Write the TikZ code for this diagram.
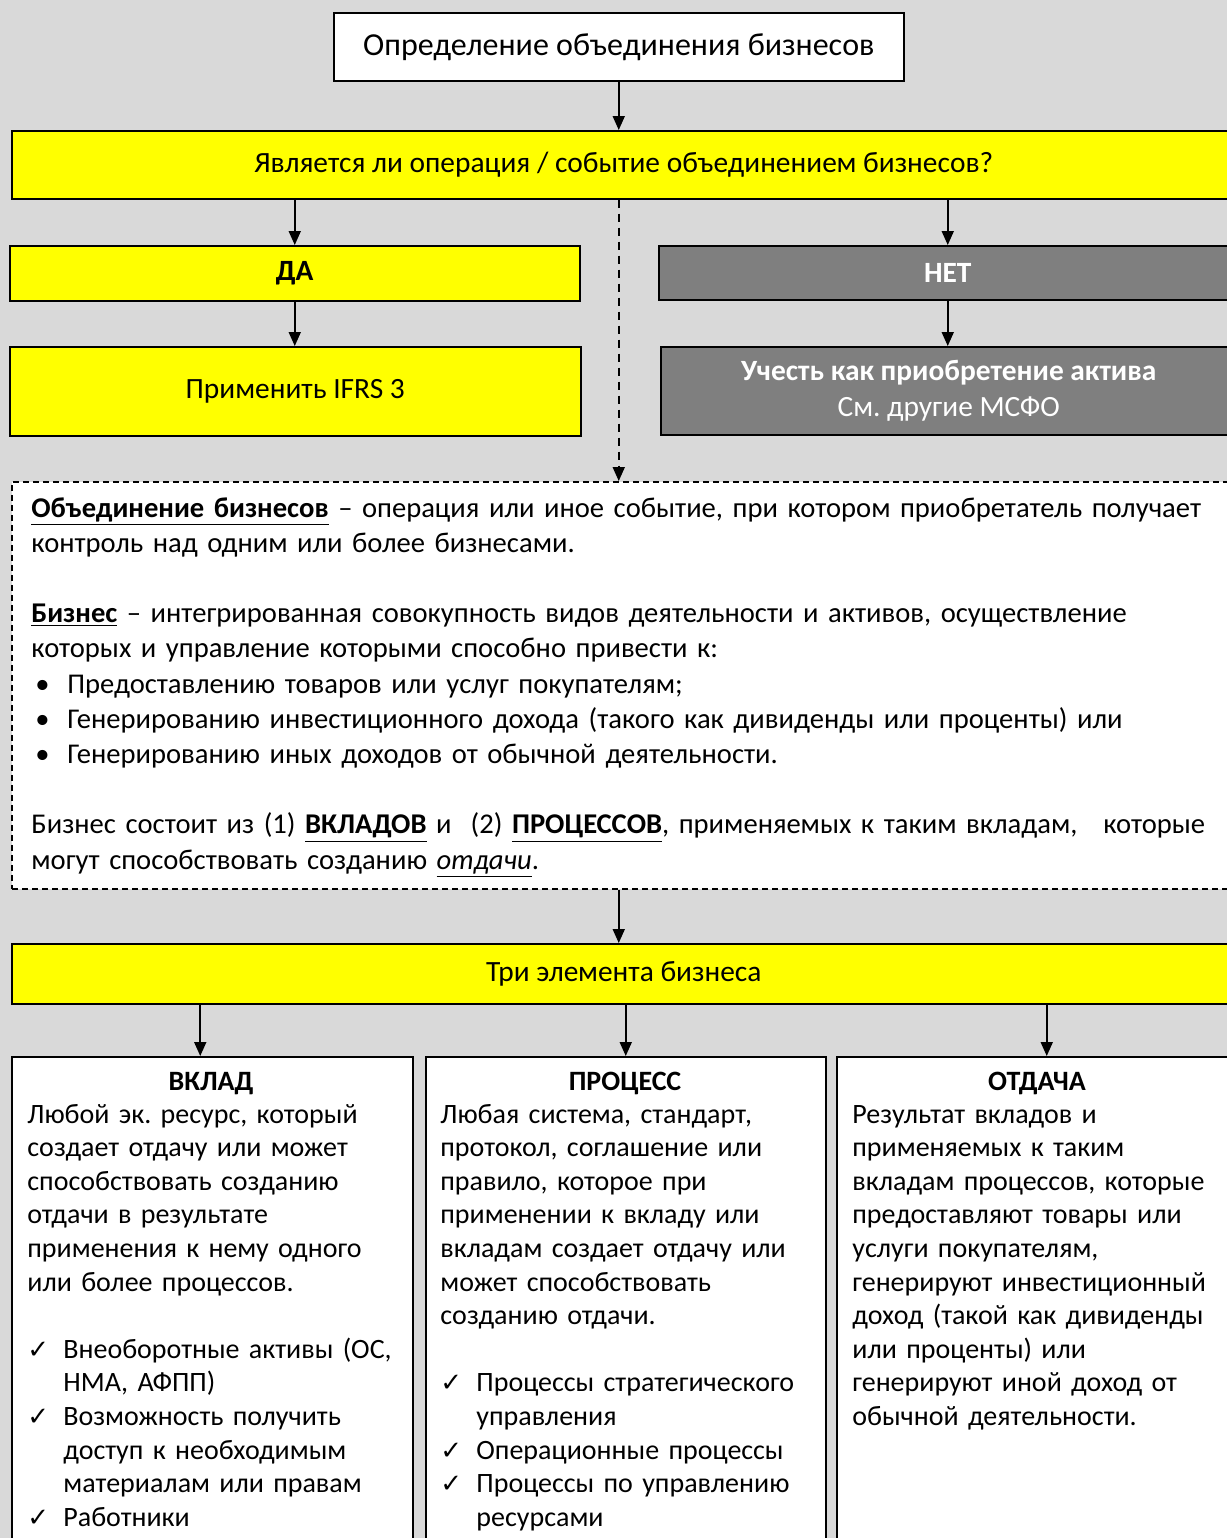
\documentclass[tikz,border=0pt]{standalone}
\usepackage{fontspec}
\setmainfont{Carlito}
\newfontfamily\symfont{DejaVu Sans}
\usetikzlibrary{arrows.meta}
\definecolor{bggray}{HTML}{D9D9D9}
\definecolor{boxyellow}{HTML}{FFFF00}
\definecolor{boxgray}{HTML}{7F7F7F}
\newcommand{\chk}{\makebox[18pt][l]{\symfont\fontsize{13}{13}\selectfont ✓}}
\newcommand{\ind}{\hspace*{18pt}}
\newcommand{\bul}{\makebox[18pt][l]{\hspace{2pt}•}}
\frenchspacing
\tikzset{
  box/.style={draw=black, line width=0.75pt, inner sep=0pt, anchor=north west, align=center},
  yellowbox/.style={box, fill=boxyellow},
  graybox/.style={box, fill=boxgray, text=white},
  whitebox/.style={box, fill=white},
  boxfont/.style={font=\fontsize{14.7}{18}\selectfont},
  boxbold/.style={font=\fontsize{14.7}{18}\selectfont\bfseries},
  arr/.style={-{Triangle[length=7pt,width=6pt]}, line width=0.9pt},
  bodytxt/.style={inner sep=0pt, align=left, anchor=base west, font=\fontsize{14}{16.8}\selectfont},
  headtxt/.style={inner sep=0pt, anchor=base, font=\fontsize{14}{16.8}\selectfont\bfseries},
}
\begin{document}
\begin{tikzpicture}[x=0.5pt, y=-0.5pt]
\useasboundingbox (0,0) rectangle (1227,1538);
\clip (0,0) rectangle (1227,1538);
\fill[bggray] (0,0) rectangle (1227,1538);

\node[whitebox, minimum width=285pt, minimum height=34pt, font=\fontsize{16}{19}\selectfont] (def) at (333,12) {Определение объединения бизнесов};
\node[yellowbox, boxfont, minimum width=612pt, minimum height=34pt] (q) at (11,130) {Является ли операция / событие объединением бизнесов?};

\node[yellowbox, boxbold, minimum width=285pt, minimum height=27.5pt] (da) at (9,245) {ДА};
\node[yellowbox, boxfont, minimum width=285.5pt, minimum height=44.5pt] (ifrs) at (9,346) {Применить IFRS 3};
\node[graybox, boxbold, minimum width=289pt, minimum height=27pt] (net) at (658,245) {НЕТ};
\node[graybox, boxfont, minimum width=288pt, minimum height=44pt] (uchet) at (660,346) {\textbf{Учесть как приобретение актива}\\См. другие МСФО};

\node[whitebox, dashed, dash pattern=on 3pt off 2pt, minimum width=620pt, minimum height=203.5pt] (defs) at (11,481) {};
\node[bodytxt, text width=600pt, font=\fontsize{14.3}{17.6}\selectfont] (defstxt) at (31,517) {\underline{\textbf{Объединение бизнесов}} – операция или иное событие, при котором приобретатель получает\\
контроль над одним или более бизнесами.\\[\baselineskip]
\underline{\textbf{Бизнес}} – интегрированная совокупность видов деятельности и активов, осуществление\\
которых и управление которыми способно привести к:\\
\bul Предоставлению товаров или услуг покупателям;\\
\bul Генерированию инвестиционного дохода (такого как дивиденды или проценты) или\\
\bul Генерированию иных доходов от обычной деятельности.\\[\baselineskip]
Бизнес состоит из (1) \underline{\textbf{ВКЛАДОВ}} и\ \ (2) \underline{\textbf{ПРОЦЕССОВ}}, применяемых к таким вкладам,\hspace{0.9em}которые\\
могут способствовать созданию \underline{\textit{отдачи}}.};

\node[yellowbox, boxfont, minimum width=612pt, minimum height=30pt] (three) at (11,943) {Три элемента бизнеса};

\node[whitebox, minimum width=200.5pt, minimum height=300pt] (vklad) at (11,1056) {};
\node[whitebox, minimum width=200pt, minimum height=300pt] (proc) at (425,1056) {};
\node[whitebox, minimum width=210pt, minimum height=300pt] (otd) at (836,1056) {};

\node[headtxt] (vkladhead) at (211,1090) {ВКЛАД};
\node[headtxt] (prochead) at (625,1090) {ПРОЦЕСС};
\node[headtxt] (otdhead) at (1037,1090) {ОТДАЧА};

\node[bodytxt, text width=195pt] (vkladtxt) at (27,1123) {Любой эк. ресурс, который\\
создает отдачу или может\\
способствовать созданию\\
отдачи в результате\\
применения к нему одного\\
или более процессов.\\[\baselineskip]
\chk Внеоборотные активы (ОС,\\
\ind НМА, АФПП)\\
\chk Возможность получить\\
\ind доступ к необходимым\\
\ind материалам или правам\\
\chk Работники};
\node[bodytxt, text width=195pt] (proctxt) at (440,1123) {Любая система, стандарт,\\
протокол, соглашение или\\
правило, которое при\\
применении к вкладу или\\
вкладам создает отдачу или\\
может способствовать\\
созданию отдачи.\\[\baselineskip]
\chk Процессы стратегического\\
\ind управления\\
\chk Операционные процессы\\
\chk Процессы по управлению\\
\ind ресурсами};
\node[bodytxt, text width=195pt] (otdtxt) at (852,1123) {Результат вкладов и\\
применяемых к таким\\
вкладам процессов, которые\\
предоставляют товары или\\
услуги покупателям,\\
генерируют инвестиционный\\
доход (такой как дивиденды\\
или проценты) или\\
генерируют иной доход от\\
обычной деятельности.};

\draw[arr] (def.south) -- (def.south |- q.north);
\draw[arr] (da.north |- q.south) -- (da.north);
\draw[arr] (da.south) -- (da.south |- ifrs.north);
\draw[arr] (net.north |- q.south) -- (net.north);
\draw[arr] (net.south) -- (net.south |- uchet.north);
\draw[arr, dash pattern=on 4pt off 3pt] (def.south |- q.south) -- (def.south |- defs.north);
\draw[arr] (def.south |- defs.south) -- (def.south |- three.north);
\draw[arr] ([xshift=-6pt]vklad.north |- three.south) -- ([xshift=-6pt]vklad.north);
\draw[arr] (proc.north |- three.south) -- (proc.north);
\draw[arr] (otd.north |- three.south) -- (otd.north);
\end{tikzpicture}
\end{document}
